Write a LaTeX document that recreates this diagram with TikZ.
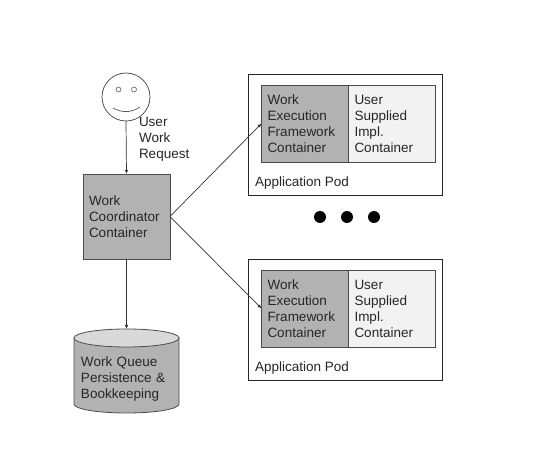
\documentclass[tikz,border=0pt]{standalone}
\usepackage{fontspec}
\setmainfont{Liberation Sans}
\usetikzlibrary{arrows.meta}

\begin{document}
\begin{tikzpicture}[x=1pt,y=-1pt,
    every node/.style={text=black!85,font=\fontsize{13.5}{16}\selectfont},
    arrowline/.style={draw=black!80,line width=0.7pt,-{Latex[length=4pt,width=3.5pt]}},
    boxtext/.style={rectangle,draw=black!70,line width=0.8pt,inner sep=0pt,outer sep=0pt,align=left},
    darkbox/.style={boxtext,fill=black!30},
    lightbox/.style={boxtext,fill=black!5},
    podbox/.style={rectangle,draw=black!85,line width=0.8pt,fill=white,inner sep=0pt,outer sep=0pt,minimum width=194pt,minimum height=121pt},
    plaintext/.style={inner sep=0pt,outer sep=0pt,align=left},
    bigdot/.style={circle,fill=black,inner sep=0pt,minimum size=12pt},
    eyedot/.style={circle,draw=black!65,line width=0.6pt,inner sep=0pt,minimum size=5pt},
    canedge/.style={draw=black!70,line width=0.8pt}
  ]
  \useasboundingbox (0,0) rectangle (542,468);

  \node[circle,draw=black!75,line width=0.7pt,inner sep=0pt,outer sep=0pt,minimum size=48pt] (face) at (126,97) {};
  \node[eyedot] (eyeL) at (118.5,89.5) {};
  \node[eyedot] (eyeR) at (134,89.5) {};
  \draw[black!65,line width=0.7pt] (113,108) .. controls (122,113) and (131,113) .. (140,107);

  \node[plaintext,anchor=west] (request) at (139,139) {User\\Work\\Request};

  \node[darkbox,minimum width=87pt,minimum height=85pt,text width=75pt] (coordinator) at (126.5,216.5) {Work\\Coordinator\\Container};

  \coordinate (queuetop) at (126.5,329);
  \path[canedge,fill=black!30] (74,338) -- (74,404) .. controls (74,409) and (97,413) .. (126.5,413)
    .. controls (156,413) and (179,409) .. (179,404) -- (179,338) -- cycle;
  \path[canedge,fill=black!15] (74,338) .. controls (74,333) and (97,329) .. (126.5,329)
    .. controls (156,329) and (179,333) .. (179,338) .. controls (179,343) and (156,347) .. (126.5,347)
    .. controls (97,347) and (74,343) .. (74,338) -- cycle;
  \node[plaintext,text width=95pt,anchor=west] (queuetext) at (81,379) {Work Queue\\Persistence \&\\Bookkeeping};

  \node[podbox] (pod1) at (345,134.5) {};
  \node[darkbox,minimum width=87pt,minimum height=77pt,text width=75pt] (exec1) at (305,123.5) {Work\\Execution\\Framework\\Container};
  \node[lightbox,minimum width=87pt,minimum height=77pt,text width=75pt] (impl1) at (392,123.5) {User\\Supplied\\Impl.\\Container};
  \node[plaintext,anchor=west] (label1) at (255,183.5) {Application Pod};

  \node[bigdot] (dot1) at (320,217) {};
  \node[bigdot] (dot2) at (347,217) {};
  \node[bigdot] (dot3) at (374,217) {};

  \node[podbox] (pod2) at (345,319.5) {};
  \node[darkbox,minimum width=87pt,minimum height=77pt,text width=75pt] (exec2) at (305,308.5) {Work\\Execution\\Framework\\Container};
  \node[lightbox,minimum width=87pt,minimum height=77pt,text width=75pt] (impl2) at (392,308.5) {User\\Supplied\\Impl.\\Container};
  \node[plaintext,anchor=west] (label2) at (255,368.5) {Application Pod};

  \draw[arrowline] (face.south) -- (coordinator.north);
  \draw[arrowline] (coordinator.south) -- (queuetop);
  \draw[arrowline] (coordinator.east) -- (exec1.west);
  \draw[arrowline] (coordinator.east) -- (exec2.west);
\end{tikzpicture}
\end{document}
